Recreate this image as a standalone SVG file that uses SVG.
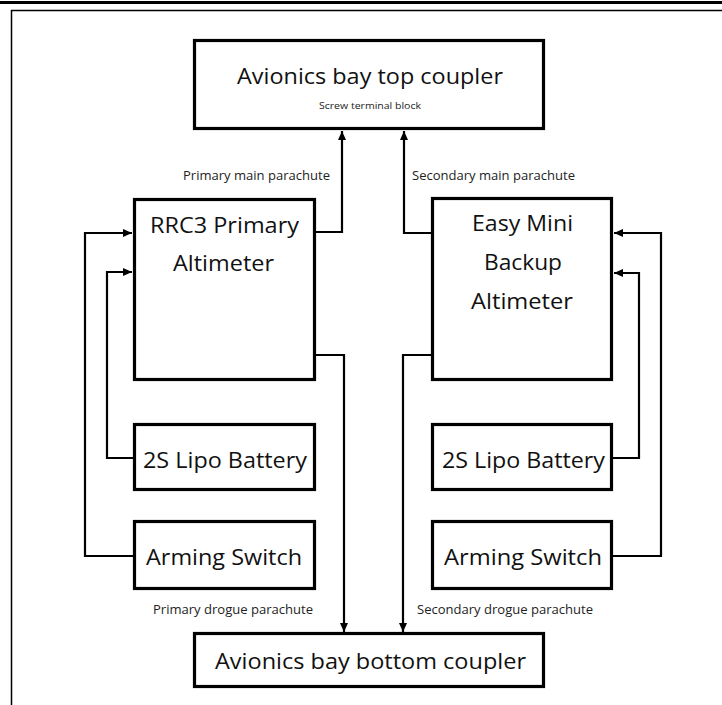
<svg xmlns="http://www.w3.org/2000/svg" width="722" height="705" viewBox="0 0 722 705">
<style>
.box{fill:#fff;stroke:#000;stroke-width:3.2}
.frame{fill:none;stroke:#000}
.conn{fill:none;stroke:#000;stroke-width:2.2}
.big{font-family:"Open Sans","Noto Sans",sans-serif;font-size:22px;fill:#111;text-anchor:middle}
.mid{font-family:"Open Sans","Noto Sans",sans-serif;font-size:21px;fill:#111;text-anchor:middle}
.lbl{font-family:"Open Sans","Noto Sans",sans-serif;font-size:12px;fill:#222}
.sm{font-family:"Open Sans","Noto Sans",sans-serif;font-size:9.5px;fill:#222;text-anchor:middle}
</style>
<defs>
<marker id="ah" markerUnits="userSpaceOnUse" markerWidth="10" markerHeight="8" refX="9" refY="4" orient="auto">
<path d="M0,0 L9,4 L0,8 z" fill="#000"/>
</marker>
</defs>
<g id="page-frame">
<line class="frame" x1="0" y1="2.5" x2="722" y2="2.5" stroke-width="3"/>
<path class="frame" d="M722,10.5 H11.5 V705" stroke-width="1.5"/>
</g>
<g id="connectors">
<path class="conn" d="M316,232 H342 V131" marker-end="url(#ah)"/>
<path class="conn" d="M431,233 H404 V131" marker-end="url(#ah)"/>
<path class="conn" d="M316,355 H344 V632" marker-end="url(#ah)"/>
<path class="conn" d="M431,355 H403 V632" marker-end="url(#ah)"/>
<path class="conn" d="M133,556 H85 V233 H132" marker-end="url(#ah)"/>
<path class="conn" d="M133,458 H107 V272 H132" marker-end="url(#ah)"/>
<path class="conn" d="M613,556 H661 V233 H614" marker-end="url(#ah)"/>
<path class="conn" d="M613,458 H639 V273 H614" marker-end="url(#ah)"/>
<text class="lbl" x="183" y="180" textLength="147" lengthAdjust="spacingAndGlyphs">Primary main parachute</text>
<text class="lbl" x="412" y="180" textLength="163" lengthAdjust="spacingAndGlyphs">Secondary main parachute</text>
<text class="lbl" x="153" y="614" textLength="160" lengthAdjust="spacingAndGlyphs">Primary drogue parachute</text>
<text class="lbl" x="417" y="614" textLength="176" lengthAdjust="spacingAndGlyphs">Secondary drogue parachute</text>
</g>
<g id="top-coupler">
<rect class="box" x="194.5" y="40.5" width="349" height="88"/>
<text class="big" x="370" y="84" textLength="266" lengthAdjust="spacingAndGlyphs">Avionics bay top coupler</text>
<text class="sm" x="370" y="109" textLength="102" lengthAdjust="spacingAndGlyphs">Screw terminal block</text>
</g>
<g id="rrc3">
<rect class="box" x="134.5" y="199.5" width="180" height="180"/>
<text class="mid" x="224.5" y="233" textLength="149" lengthAdjust="spacingAndGlyphs">RRC3 Primary</text>
<text class="mid" x="223.5" y="271" textLength="101" lengthAdjust="spacingAndGlyphs">Altimeter</text>
</g>
<g id="easymini">
<rect class="box" x="432.5" y="198.5" width="179" height="181"/>
<text class="mid" x="522.5" y="231" textLength="101" lengthAdjust="spacingAndGlyphs">Easy Mini</text>
<text class="mid" x="523" y="270" textLength="78" lengthAdjust="spacingAndGlyphs">Backup</text>
<text class="mid" x="522" y="309" textLength="102" lengthAdjust="spacingAndGlyphs">Altimeter</text>
</g>
<g id="battery-left">
<rect class="box" x="134.5" y="424.5" width="180" height="65"/>
<text class="mid" x="225" y="468" textLength="164" lengthAdjust="spacingAndGlyphs">2S Lipo Battery</text>
</g>
<g id="battery-right">
<rect class="box" x="432.5" y="424.5" width="179" height="65"/>
<text class="mid" x="523.5" y="468" textLength="163" lengthAdjust="spacingAndGlyphs">2S Lipo Battery</text>
</g>
<g id="switch-left">
<rect class="box" x="134.5" y="521.5" width="180" height="67"/>
<text class="mid" x="224" y="565" textLength="156" lengthAdjust="spacingAndGlyphs">Arming Switch</text>
</g>
<g id="switch-right">
<rect class="box" x="432.5" y="521.5" width="179" height="67"/>
<text class="mid" x="523" y="565" textLength="158" lengthAdjust="spacingAndGlyphs">Arming Switch</text>
</g>
<g id="bottom-coupler">
<rect class="box" x="194.5" y="633.5" width="349" height="53"/>
<text class="big" x="370.5" y="669" textLength="311" lengthAdjust="spacingAndGlyphs">Avionics bay bottom coupler</text>
</g>
</svg>
